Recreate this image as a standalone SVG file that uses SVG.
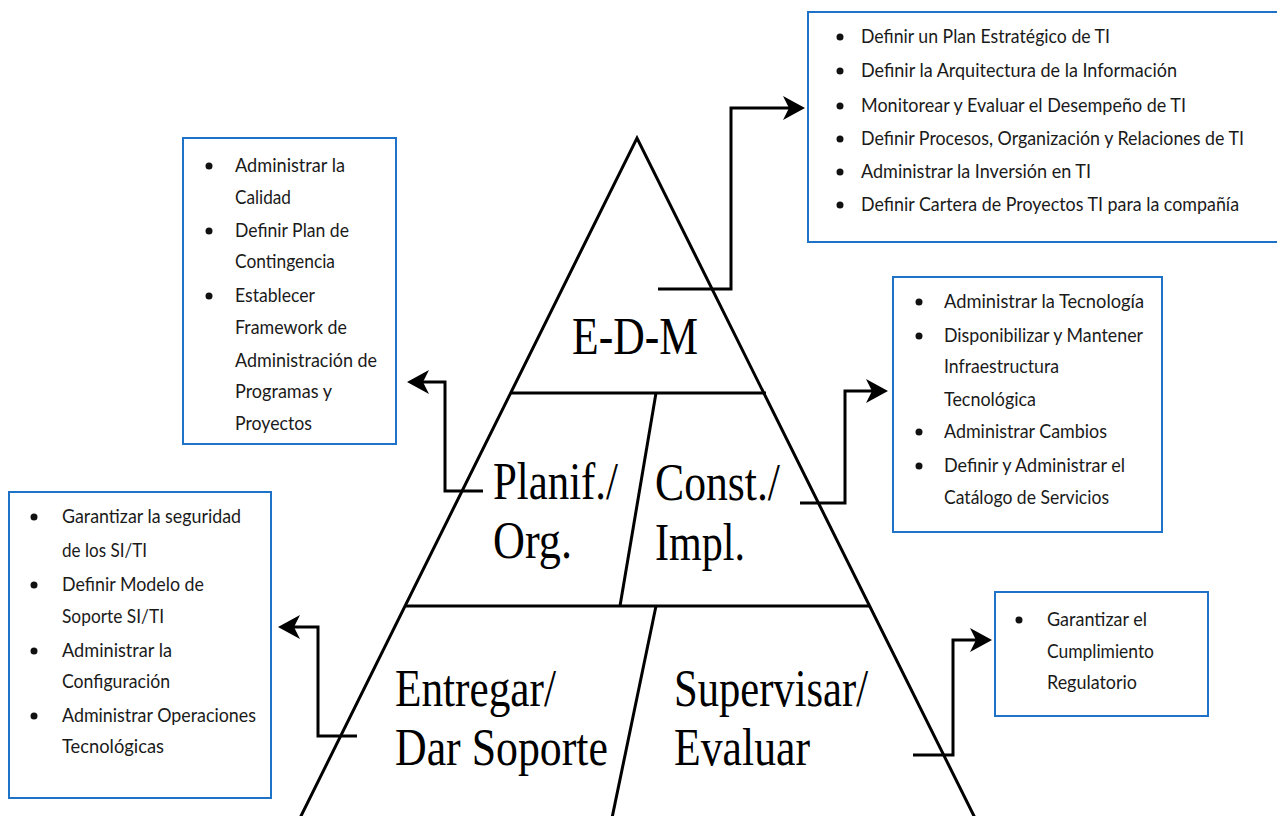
<svg xmlns="http://www.w3.org/2000/svg" width="1277" height="816" viewBox="0 0 1277 816">
<style>
.box{fill:#fff;stroke:#1e73c8;stroke-width:2}
.t{font-family:Lato,"Open Sans","Liberation Sans",sans-serif;font-size:19px;fill:#1a1a1a}
.p{font-family:"Liberation Serif","Times New Roman",serif;font-size:52px;fill:#000}
.b{fill:#111}
.ln{fill:none;stroke:#000;stroke-width:3}
.cn{fill:none;stroke:#000;stroke-width:3}
</style>
<defs>
<marker id="ah" markerUnits="userSpaceOnUse" markerWidth="24" markerHeight="26" refX="12" refY="12" orient="auto">
<path d="M0,0 L22,12 L0,24 L6,12 z" fill="#000"/>
</marker>
</defs>
<rect width="1277" height="816" fill="#fff"/>

<g id="pyramid">
<path class="ln" d="M300,818 L637,138 L975,818"/>
<path class="ln" d="M511,393 H766"/>
<path class="ln" d="M405,606 H870"/>
<path class="ln" d="M656,393 L620,606"/>
<path class="ln" d="M656,606 L612,818"/>
</g>

<g id="edm"><text class="p" x="572" y="354" textLength="126" lengthAdjust="spacingAndGlyphs">E-D-M</text></g>
<g id="planif">
<text class="p" x="493" y="499" textLength="125" lengthAdjust="spacingAndGlyphs">Planif./</text>
<text class="p" x="493" y="558" textLength="79" lengthAdjust="spacingAndGlyphs">Org.</text>
</g>
<g id="const">
<text class="p" x="655" y="500" textLength="125" lengthAdjust="spacingAndGlyphs">Const./</text>
<text class="p" x="655" y="560" textLength="90" lengthAdjust="spacingAndGlyphs">Impl.</text>
</g>
<g id="entregar">
<text class="p" x="395" y="706" textLength="161" lengthAdjust="spacingAndGlyphs">Entregar/</text>
<text class="p" x="395" y="765" textLength="213" lengthAdjust="spacingAndGlyphs">Dar Soporte</text>
</g>
<g id="supervisar">
<text class="p" x="674" y="706" textLength="194" lengthAdjust="spacingAndGlyphs">Supervisar/</text>
<text class="p" x="674" y="765" textLength="136" lengthAdjust="spacingAndGlyphs">Evaluar</text>
</g>

<g id="connectors">
<path class="cn" marker-end="url(#ah)" d="M658,289 H731 V108 H795"/>
<path class="cn" marker-end="url(#ah)" d="M483,491 H445 V382 H417"/>
<path class="cn" marker-end="url(#ah)" d="M800,503 H845 V391 H878"/>
<path class="cn" marker-end="url(#ah)" d="M357,736 H318 V627 H288"/>
<path class="cn" marker-end="url(#ah)" d="M913,755 H953 V640 H982"/>
</g>

<g id="box-edm">
<rect class="box" x="808" y="12" width="490" height="230"/>
<circle class="b" cx="840" cy="37" r="3.5"/><text class="t" x="861" y="43" textLength="249" lengthAdjust="spacingAndGlyphs">Definir un Plan Estratégico de TI</text>
<circle class="b" cx="840" cy="71" r="3.5"/><text class="t" x="861" y="77" textLength="316" lengthAdjust="spacingAndGlyphs">Definir la Arquitectura  de la Información</text>
<circle class="b" cx="840" cy="106" r="3.5"/><text class="t" x="861" y="112" textLength="325" lengthAdjust="spacingAndGlyphs">Monitorear y Evaluar el Desempeño de TI</text>
<circle class="b" cx="840" cy="139" r="3.5"/><text class="t" x="861" y="145" textLength="383" lengthAdjust="spacingAndGlyphs">Definir Procesos, Organización y Relaciones de TI</text>
<circle class="b" cx="840" cy="172" r="3.5"/><text class="t" x="861" y="178" textLength="230" lengthAdjust="spacingAndGlyphs">Administrar  la Inversión en TI</text>
<circle class="b" cx="840" cy="205" r="3.5"/><text class="t" x="861" y="211" textLength="378" lengthAdjust="spacingAndGlyphs">Definir Cartera de Proyectos TI para la compañía</text>
</g>

<g id="box-planif">
<rect class="box" x="183" y="138" width="213" height="306"/>
<circle class="b" cx="209" cy="166" r="3.5"/><text class="t" x="235" y="172" textLength="110" lengthAdjust="spacingAndGlyphs">Administrar  la</text>
<text class="t" x="235" y="204" textLength="56" lengthAdjust="spacingAndGlyphs">Calidad</text>
<circle class="b" cx="209" cy="231" r="3.5"/><text class="t" x="235" y="237" textLength="114" lengthAdjust="spacingAndGlyphs">Definir Plan de</text>
<text class="t" x="235" y="268" textLength="100" lengthAdjust="spacingAndGlyphs">Contingencia</text>
<circle class="b" cx="209" cy="296" r="3.5"/><text class="t" x="235" y="302" textLength="80" lengthAdjust="spacingAndGlyphs">Establecer</text>
<text class="t" x="235" y="334" textLength="112" lengthAdjust="spacingAndGlyphs">Framework de</text>
<text class="t" x="235" y="367" textLength="142" lengthAdjust="spacingAndGlyphs">Administración  de</text>
<text class="t" x="235" y="398" textLength="97" lengthAdjust="spacingAndGlyphs">Programas y</text>
<text class="t" x="235" y="430" textLength="77" lengthAdjust="spacingAndGlyphs">Proyectos</text>
</g>

<g id="box-const">
<rect class="box" x="893" y="277" width="269" height="255"/>
<circle class="b" cx="919" cy="302" r="3.5"/><text class="t" x="944" y="308" textLength="200" lengthAdjust="spacingAndGlyphs">Administrar  la Tecnología</text>
<circle class="b" cx="919" cy="336" r="3.5"/><text class="t" x="944" y="342" textLength="199" lengthAdjust="spacingAndGlyphs">Disponibilizar  y Mantener</text>
<text class="t" x="944" y="373" textLength="115" lengthAdjust="spacingAndGlyphs">Infraestructura</text>
<text class="t" x="944" y="406" textLength="92" lengthAdjust="spacingAndGlyphs">Tecnológica</text>
<circle class="b" cx="919" cy="432" r="3.5"/><text class="t" x="944" y="438" textLength="163" lengthAdjust="spacingAndGlyphs">Administrar  Cambios</text>
<circle class="b" cx="919" cy="466" r="3.5"/><text class="t" x="944" y="472" textLength="181" lengthAdjust="spacingAndGlyphs">Definir y Administrar  el</text>
<text class="t" x="944" y="504" textLength="165" lengthAdjust="spacingAndGlyphs">Catálogo de Servicios</text>
</g>

<g id="box-entregar">
<rect class="box" x="9" y="492" width="262" height="306"/>
<circle class="b" cx="34" cy="517" r="3.5"/><text class="t" x="62" y="523" textLength="179" lengthAdjust="spacingAndGlyphs">Garantizar la seguridad</text>
<text class="t" x="62" y="557" textLength="85" lengthAdjust="spacingAndGlyphs">de los SI/TI</text>
<circle class="b" cx="34" cy="585" r="3.5"/><text class="t" x="62" y="591" textLength="142" lengthAdjust="spacingAndGlyphs">Definir Modelo de</text>
<text class="t" x="62" y="623" textLength="102" lengthAdjust="spacingAndGlyphs">Soporte SI/TI</text>
<circle class="b" cx="34" cy="651" r="3.5"/><text class="t" x="62" y="657" textLength="110" lengthAdjust="spacingAndGlyphs">Administrar  la</text>
<text class="t" x="62" y="688" textLength="108" lengthAdjust="spacingAndGlyphs">Configuración</text>
<circle class="b" cx="34" cy="716" r="3.5"/><text class="t" x="62" y="722" textLength="194" lengthAdjust="spacingAndGlyphs">Administrar  Operaciones</text>
<text class="t" x="62" y="753" textLength="102" lengthAdjust="spacingAndGlyphs">Tecnológicas</text>
</g>

<g id="box-supervisar">
<rect class="box" x="995" y="592" width="213" height="124"/>
<circle class="b" cx="1019" cy="620" r="3.5"/><text class="t" x="1047" y="626" textLength="100" lengthAdjust="spacingAndGlyphs">Garantizar el</text>
<text class="t" x="1047" y="658" textLength="107" lengthAdjust="spacingAndGlyphs">Cumplimiento</text>
<text class="t" x="1047" y="689" textLength="90" lengthAdjust="spacingAndGlyphs">Regulatorio</text>
</g>
</svg>
